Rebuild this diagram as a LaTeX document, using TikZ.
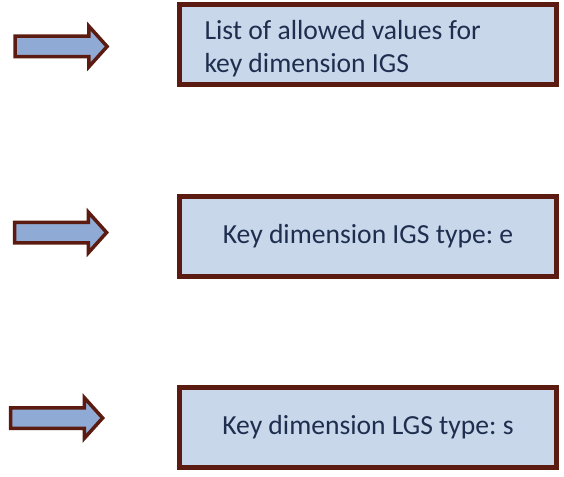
\documentclass[tikz,border=0pt]{standalone}
\usepackage{fontspec}
\setmainfont{Carlito}
\usepackage{tikz}
\usepackage{xcolor}
\usetikzlibrary{positioning,shapes.arrows}
\definecolor{boxfill}{RGB}{200,215,234}
\definecolor{boxline}{RGB}{92,27,16}
\definecolor{arrowfill}{RGB}{143,170,212}
\definecolor{textblue}{RGB}{30,46,78}
\tikzstyle{keyBox} = [rectangle, draw=boxline, fill=boxfill, line width=5pt, minimum width=377pt, minimum height=80pt, text=textblue, font=\fontsize{27.6}{33}\selectfont\frenchspacing]
\tikzstyle{pointer} = [single arrow, draw=boxline, fill=arrowfill, line width=3.5pt, minimum height=92pt, inner sep=8.5pt, single arrow head extend=10pt, single arrow tip angle=96]

\begin{document}
\begin{tikzpicture}[x=1pt,y=-1pt]
            \useasboundingbox (0,0) rectangle (564,476);
            \node (list) at (368,44.5) [keyBox, text width=327pt, align=flush left, inner xsep=25pt] {\rule{0pt}{28pt}List of allowed values for\\key dimension IGS};
            \node (igs) at (368,236) [keyBox] {Key dimension IGS type: e};
            \node (lgs) at (368,427) [keyBox] {Key dimension LGS type: s};
            \node (pList) at (56.5,46.5) [pointer] {};
            \node (pIgs) at (56,232.5) [pointer] {};
            \node (pLgs) at (52,418) [pointer] {};
        \end{tikzpicture}
\end{document}
